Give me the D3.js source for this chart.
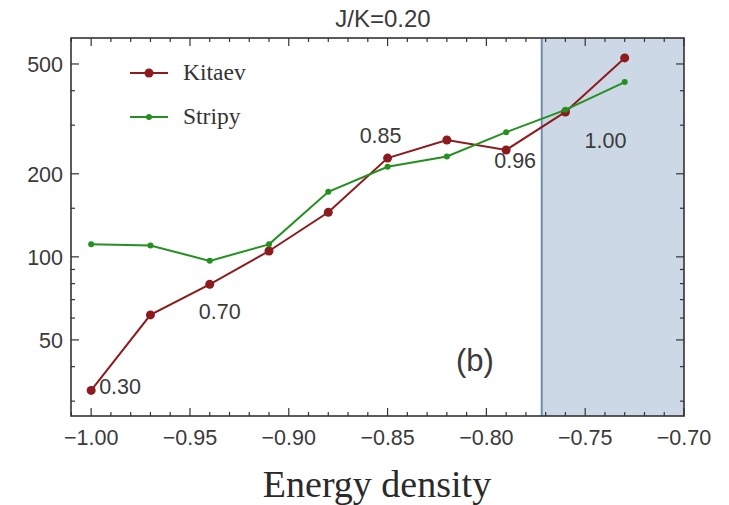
<!DOCTYPE html>
<html>
<head>
  <meta charset="utf-8">
  <style>
    * { margin: 0; padding: 0; box-sizing: border-box; }
    body { background: #fff; }
    svg { display: block; }
  </style>
</head>
<body>
  <div id="chart"></div>
  <script src="https://cdn.jsdelivr.net/npm/d3@7"></script>
  <script>
    // data
    const energy = [-1.00, -0.97, -0.94, -0.91, -0.88, -0.85, -0.82, -0.79, -0.76, -0.73];
    const kitaev = [32.8, 61.6, 79.5, 105, 145, 228, 265, 244, 335, 526];
    const stripy = [111, 110, 96.7, 111, 172, 212, 231, 283, 341, 430];
    const annotations = [
      { x: -1.00, y: 32.8, text: '0.30', dx: 8, dy: -4, anchor: 'start' },
      { x: -0.94, y: 79.5, text: '0.70', dx: 10, dy: 27, anchor: 'middle' },
      { x: -0.85, y: 228, text: '0.85', dx: -7, dy: -23, anchor: 'middle' },
      { x: -0.79, y: 244, text: '0.96', dx: 9, dy: 10, anchor: 'middle' },
      { x: -0.76, y: 335, text: '1.00', dx: 40, dy: 28, anchor: 'middle' }
    ];
    const shadeStart = -0.772;
    const xMajor = [-1.00, -0.95, -0.90, -0.85, -0.80, -0.75, -0.70];
    const yMajor = [50, 100, 200, 500];
    const yMinor = [30, 40, 60, 70, 80, 90, 150, 300, 400];

    const width = 729, height = 505;
    const pLeft = 71, pRight = 684, pTop = 38, pBottom = 416;

    const x = d3.scaleLinear().domain([-1.0102, -0.70]).range([pLeft, pRight]);
    const y = d3.scaleLog().domain([26.5, 621]).range([pBottom, pTop]);

    const svg = d3.select('#chart').append('svg')
      .attr('width', width).attr('height', height);

    // shaded region
    svg.append('rect')
      .attr('x', x(shadeStart)).attr('y', pTop)
      .attr('width', pRight - x(shadeStart)).attr('height', pBottom - pTop)
      .attr('fill', '#cdd8e7');
    svg.append('line')
      .attr('x1', x(shadeStart)).attr('x2', x(shadeStart))
      .attr('y1', pTop).attr('y2', pBottom)
      .attr('stroke', '#6f8bb0').attr('stroke-width', 2);

    // frame
    svg.append('rect')
      .attr('x', pLeft).attr('y', pTop)
      .attr('width', pRight - pLeft).attr('height', pBottom - pTop)
      .attr('fill', 'none').attr('stroke', '#333').attr('stroke-width', 1.6);

    const ticks = svg.append('g').attr('stroke', '#333').attr('stroke-width', 1.2);
    const xMinor = d3.range(-101, -69).map(v => v / 100);
    xMinor.forEach(v => {
      const major = xMajor.some(m => Math.abs(m - v) < 1e-6);
      const len = major ? 8 : 4;
      ticks.append('line').attr('x1', x(v)).attr('x2', x(v)).attr('y1', pBottom).attr('y2', pBottom - len);
      ticks.append('line').attr('x1', x(v)).attr('x2', x(v)).attr('y1', pTop).attr('y2', pTop + len);
    });
    yMajor.concat(yMinor).forEach(v => {
      const len = yMajor.includes(v) ? 8 : 4;
      ticks.append('line').attr('x1', pLeft).attr('x2', pLeft + len).attr('y1', y(v)).attr('y2', y(v));
      ticks.append('line').attr('x1', pRight).attr('x2', pRight - len).attr('y1', y(v)).attr('y2', y(v));
    });

    const labelFont = 'Liberation Sans, Arial, sans-serif';
    const serif = 'Liberation Serif, Times New Roman, serif';
    svg.append('g').selectAll('text').data(xMajor).join('text')
      .attr('x', d => x(d)).attr('y', 445)
      .attr('text-anchor', 'middle')
      .attr('font-family', labelFont).attr('font-size', 21.5).attr('fill', '#3a3a3a')
      .text(d => '\u2212' + Math.abs(d).toFixed(2));
    svg.append('g').selectAll('text').data(yMajor).join('text')
      .attr('x', pLeft - 8).attr('y', d => y(d)).attr('dy', '0.36em')
      .attr('text-anchor', 'end')
      .attr('font-family', labelFont).attr('font-size', 21.5).attr('fill', '#3a3a3a')
      .text(d => d);

    // series
    const line = d3.line().x((d, i) => x(energy[i])).y(d => y(d));
    const series = [
      { name: 'Kitaev', values: kitaev, color: '#8c1a1e', r: 4.5 },
      { name: 'Stripy', values: stripy, color: '#23901f', r: 3 }
    ];
    series.forEach(s => {
      svg.append('path').datum(s.values)
        .attr('d', line).attr('fill', 'none')
        .attr('stroke', s.color).attr('stroke-width', 2);
      svg.append('g').selectAll('circle').data(s.values).join('circle')
        .attr('cx', (d, i) => x(energy[i])).attr('cy', d => y(d))
        .attr('r', s.r).attr('fill', s.color);
    });

    // annotations
    svg.append('g').selectAll('text').data(annotations).join('text')
      .attr('x', d => x(d.x) + d.dx).attr('y', d => y(d.y) + d.dy)
      .attr('dy', '0.36em').attr('text-anchor', d => d.anchor)
      .attr('font-family', labelFont).attr('font-size', 21.5).attr('fill', '#3a3a3a')
      .text(d => d.text);

    svg.append('text').attr('x', 475).attr('y', 360).attr('dy', '0.36em')
      .attr('text-anchor', 'middle')
      .attr('font-family', labelFont).attr('font-size', 31).attr('fill', '#3a3a3a')
      .text('(b)');

    // legend
    const legend = svg.append('g');
    series.forEach((s, i) => {
      const ly = 73 + i * 44;
      legend.append('line').attr('x1', 130).attr('x2', 168).attr('y1', ly).attr('y2', ly)
        .attr('stroke', s.color).attr('stroke-width', 2);
      legend.append('circle').attr('cx', 149).attr('cy', ly).attr('r', s.r).attr('fill', s.color);
      legend.append('text').attr('x', 183).attr('y', ly).attr('dy', '0.3em')
        .attr('font-family', serif).attr('font-size', 23.5)
        .attr('fill', '#333').text(s.name);
    });

    // title and axis label
    svg.append('text').attr('x', 383).attr('y', 27).attr('text-anchor', 'middle')
      .attr('font-family', labelFont).attr('font-size', 24).attr('fill', '#3a3a3a')
      .text('J/K=0.20');
    svg.append('text').attr('x', 377).attr('y', 497).attr('text-anchor', 'middle')
      .attr('font-family', serif).attr('font-size', 38)
      .attr('fill', '#2a2a2a').text('Energy density');
  </script>
</body>
</html>
